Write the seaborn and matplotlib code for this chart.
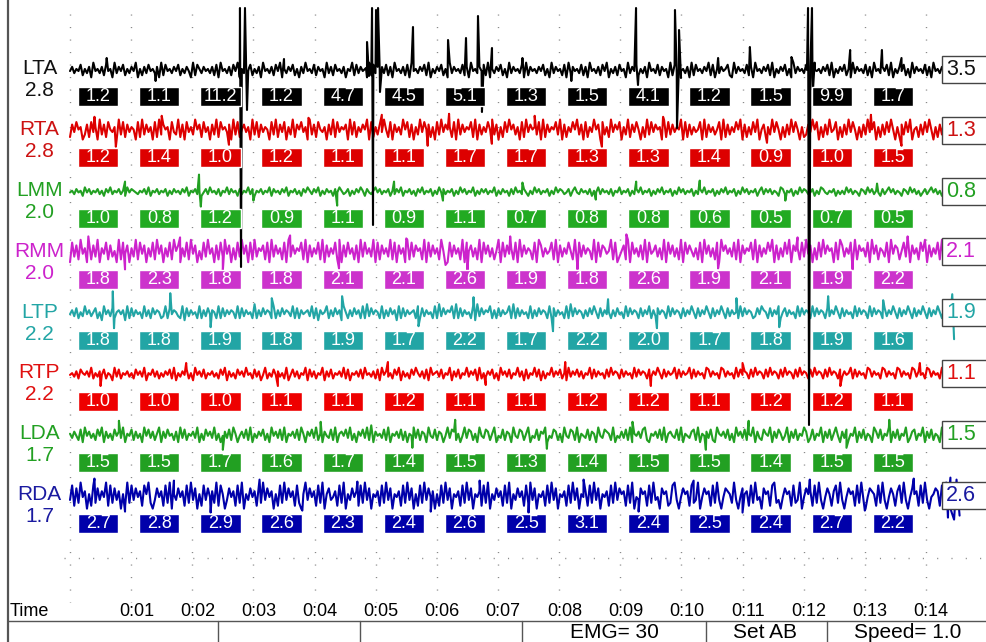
import numpy as np
import pandas as pd
import matplotlib.pyplot as plt
import seaborn as sns

# channel names and the values printed next to each trace
CHANNELS = ["LTA", "RTA", "LMM", "RMM", "LTP", "RTP", "LDA", "RDA"]
LEFT_VALUES = ["2.8", "2.8", "2.0", "2.0", "2.2", "2.2", "1.7", "1.7"]
RIGHT_VALUES = ["3.5", "1.3", "0.8", "2.1", "1.9", "1.1", "1.5", "2.6"]

# per-second box values
LTA_BOXES = ["1.2", "1.1", "11.2", "1.2", "4.7", "4.5", "5.1", "1.3", "1.5", "4.1", "1.2", "1.5", "9.9", "1.7"]
RTA_BOXES = ["1.2", "1.4", "1.0", "1.2", "1.1", "1.1", "1.7", "1.7", "1.3", "1.3", "1.4", "0.9", "1.0", "1.5"]
LMM_BOXES = ["1.0", "0.8", "1.2", "0.9", "1.1", "0.9", "1.1", "0.7", "0.8", "0.8", "0.6", "0.5", "0.7", "0.5"]
RMM_BOXES = ["1.8", "2.3", "1.8", "1.8", "2.1", "2.1", "2.6", "1.9", "1.8", "2.6", "1.9", "2.1", "1.9", "2.2"]
LTP_BOXES = ["1.8", "1.8", "1.9", "1.8", "1.9", "1.7", "2.2", "1.7", "2.2", "2.0", "1.7", "1.8", "1.9", "1.6"]
RTP_BOXES = ["1.0", "1.0", "1.0", "1.1", "1.1", "1.2", "1.1", "1.1", "1.2", "1.2", "1.1", "1.2", "1.2", "1.1"]
LDA_BOXES = ["1.5", "1.5", "1.7", "1.6", "1.7", "1.4", "1.5", "1.3", "1.4", "1.5", "1.5", "1.4", "1.5", "1.5"]
RDA_BOXES = ["2.7", "2.8", "2.9", "2.6", "2.3", "2.4", "2.6", "2.5", "3.1", "2.4", "2.5", "2.4", "2.7", "2.2"]

# raw EMG samples, one digit per sample (level 0..9, 4.5 = baseline)
LTA_TRACE = ("4635472536184536274518364725364815263745361827453647"
             "2536418275364536271845362748153647253618453627481536"
             "4725163845372645183627453615482736451827364537261845"
             "3627184536472815364725183645372618453647281536472518"
             "3645371826453647251836452718364537261845362748153627"
             "4518364725361845372645182736453618274536482715364572"
             "1836453726184536472815364725183645372618453647281536"
             "4725183645372618453647281536472518364537261845364728")
RTA_TRACE = ("2748561372846193728546193827465182937461829375618439"
             "2718463957284617392856471938257461938274651839274816"
             "3927584619372854617392846571938264759182637495281746"
             "3958271639485726183947562819374658291736485937162849"
             "5736182947563819274658391726485937182649571836294758"
             "1639274851629384756192837465918273645819274635819273"
             "6485917263849157263948516273948516237495816273945816"
             "2739485162739458162738495162738491562738495162739485")
LMM_TRACE = ("4536452746354635264735463527465435463725463546253645"
             "3647254635246374536254736452635473625463547264536472"
             "5463526475364725364526475346253647526435746354625364"
             "7254635264735462537463546253746354725364635472536452"
             "6374536425374635462537465346257436453625473645362547"
             "3546253647354625364735462537463546253647354625364735"
             "4625374635462573646354276354625374653462537643546253"
             "5374635426537463542635746354265374635246357463524637")
RMM_TRACE = ("1837294618273916482735192847163928471638294716382957"
             "1638294715283946172839471628394718293657281937462819"
             "3746582917364829173648291738462719384639182746392817"
             "4619283756291837462950183746291857362918473625918374"
             "6281937465281973645829173648529183746529183764592813"
             "5729184637291845736291847362918475362819473628195746"
             "3829174658291736485917263849175628394716283947561829"
             "7364819275638194726538194762583917462859173648291756")
LTP_TRACE = ("4637253846357251846372564618273645283627465238274653"
             "2817364528263746528273646528273645292637465282637465"
             "3827264563827164582637461852637462829374652826374618"
             "2736456282736452829374658292736452819374658262736458"
             "2927364528263746528273645282937465263748527364526374"
             "5283746527364826374652837465273648527364852736485273"
             "6452837465237486527364825736452837465283746527364852"
             "7364528374652837465273648527364852736485273648527364")
RTP_TRACE = ("4536275463825364725418372546352746381547362536472815"
             "3647251846372546352748163527463845273614825374635281"
             "4736254817362548163725463827154637284536271846352748"
             "1635274853627184563725481637254836471825364725184637"
             "2548361725483716254836472518364736254827364527384652"
             "7364528374652736485273645827364582736452873645287364"
             "5283746527384652738465273846527384652738465273846527"
             "3645827364528736452873645287364528736452873645287364")
LDA_TRACE = ("5364271846352748163527463815472635184736258163745261"
             "8372546381527463825146372851463728153647251846372815"
             "4637285164738251643728156473825164738291645372815463"
             "7261548372651843726514837625148376251843762581437265"
             "1843762581437265814376251843762815437265184376528143"
             "6372815463782154637281564372815436728154637218546372"
             "5184637254816327548163752481637254861372548163725841"
             "6372548163725418637254816372548136725481637254186372")
RDA_TRACE = ("3817294605182736491827360519283746185920374618290537"
             "4618293705183746291850374618290537461829374605182937"
             "4618205937461829057346182905374618293705461829370546"
             "1829370518293746051829370546182937054618290537461829"
             "0537461829370546182937054618293705461829370546182937"
             "5618290437561829340756128930475618239047561829304765"
             "2930475618293407561892304756182390475618293047516829"
             "3047561829304765182930475168293047561829304576182930")

# single-sample needles and artefacts (seconds, pixels above baseline)
LTA_SPIKE_T = [0.6, 1.4, 2.764, 2.780, 2.797, 2.862, 2.895, 2.928, 3.5,
               4.841, 4.858, 4.890, 4.940, 4.956, 5.005, 5.038, 5.070, 5.103,
               5.610, 6.183, 6.477, 6.673, 6.738, 6.902, 7.4, 8.2,
               9.258, 9.290, 9.895, 9.928, 9.961, 9.993, 10.6,
               11.12, 11.8, 12.054, 12.071, 12.087, 12.136, 12.152, 12.185, 12.76, 13.28, 13.6]
LTA_SPIKE_V = [12, -11, 0, 62, -197, 62, -40, 2, 11,
               2, 28, -6, 62, -155, 60, 62, -22, 3,
               43, 30, 32, 54, -42, 22, 12, -11,
               62, -15, 60, -58, 40, -8, 12,
               23, 13, 0, 62, -355, 62, -20, 0, 20, 20, 12]
RTA_SPIKE_T = [0.4, 0.75, 1.5, 2.6, 3.9, 5.1, 5.85, 6.2, 6.9, 7.6, 8.7, 9.7, 11.4, 13.1, 13.6]
RTA_SPIKE_V = [14, -16, 15, -14, 13, 16, -15, 17, -13, 15, -16, 14, -12, 16, -15]
LMM_SPIKE_T = [0.9, 2.110, 2.140, 3.0, 4.37, 5.3, 6.1, 7.4, 8.6, 9.26, 10.3, 11.7, 13.2]
LMM_SPIKE_V = [10, 17, -15, -9, -14, 10, -9, 9, -8, 10, 11, -9, 8]
RMM_SPIKE_T = [0.3, 0.9, 1.8, 2.5, 3.6, 4.4, 5.5, 6.5, 7.2, 8.3, 9.1, 10.6, 11.9, 12.8, 13.7]
RMM_SPIKE_V = [16, -17, 15, -18, 17, -16, 14, -18, 16, -17, 18, -16, 15, -17, 16]
LTP_SPIKE_T = [0.70, 0.72, 1.64, 2.3, 3.3, 4.45, 5.7, 6.6, 7.90, 8.8, 9.6, 10.9, 11.6,
               12.40, 13.3, 14.43, 14.46]
LTP_SPIKE_V = [22, -15, 20, -14, 15, 17, -13, 16, -18, 14, -15, 15, -14, 17, 13, 19, -26]
RTP_SPIKE_T = [0.5, 1.9, 3.4, 5.2, 6.8, 8.1, 9.5, 11.0, 12.6, 13.9]
RTP_SPIKE_V = [-12, 11, -12, 12, -11, 12, -12, 11, -12, 11]
LDA_SPIKE_T = [0.8, 2.5, 4.1, 5.6, 6.3, 7.8, 9.2, 10.4, 11.1, 12.7, 13.4]
LDA_SPIKE_V = [14, -15, 13, -13, 15, -14, 13, -15, 14, -13, 15]
RDA_SPIKE_T = [0.4, 0.9, 1.7, 2.3, 3.1, 3.8, 4.7, 5.9, 6.7, 7.5, 8.4, 9.3, 10.2, 11.0,
               12.1, 13.0, 13.8, 14.36, 14.40, 14.46, 14.50, 14.55]
RDA_SPIKE_V = [17, -16, 15, -17, 16, -15, 14, -16, 15, -17, 16, -16, 15, -17,
               16, -15, 17, -22, 18, -24, 16, -20]

TIME_LABELS = ["0:%02d" % s for s in range(1, 15)]
STATUS = ["EMG= 30", "Set AB", "Speed= 1.0"]

BOXES = [LTA_BOXES, RTA_BOXES, LMM_BOXES, RMM_BOXES, LTP_BOXES, RTP_BOXES, LDA_BOXES, RDA_BOXES]
TRACES = [LTA_TRACE, RTA_TRACE, LMM_TRACE, RMM_TRACE, LTP_TRACE, RTP_TRACE, LDA_TRACE, RDA_TRACE]
SPIKES = [(LTA_SPIKE_T, LTA_SPIKE_V), (RTA_SPIKE_T, RTA_SPIKE_V), (LMM_SPIKE_T, LMM_SPIKE_V),
          (RMM_SPIKE_T, RMM_SPIKE_V), (LTP_SPIKE_T, LTP_SPIKE_V), (RTP_SPIKE_T, RTP_SPIKE_V),
          (LDA_SPIKE_T, LDA_SPIKE_V), (RDA_SPIKE_T, RDA_SPIKE_V)]

# styling
LINE_COLORS = ["#000000", "#dd0000", "#22a022", "#cc22cc", "#22a5a5", "#ee0000", "#22a022", "#0000aa"]
BOX_COLORS = ["#000000", "#dd0000", "#22aa22", "#cc33cc", "#22a5a5", "#ee0000", "#22a022", "#0000aa"]
TEXT_COLORS = ["#111111", "#cc1111", "#22a022", "#cc22cc", "#22a5a5", "#e01010", "#22a022", "#1a1aa0"]
GAIN = [2.1, 2.5, 1.7, 2.8, 2.0, 1.8, 2.1, 2.9]

sns.set_style("white")
plt.rcParams['font.family'] = ['Liberation Sans', 'DejaVu Sans']

W, H = 987, 642
PX = 61.14   # pixels per second
X0 = 70      # pixel column of t = 0

fig = plt.figure(figsize=(W / 100, H / 100), dpi=100)
ax = fig.add_axes([0, 0, 1, 1])

# dotted grid
for k in range(15):
    ax.plot([k, k], [14, 602], color="#8a8a8a", lw=1, ls=(0, (0.8, 8.2)), zorder=1)
ax.plot([-0.1, 15], [558, 558], color="#8a8a8a", lw=1, ls=(0, (0.8, 9.5)), zorder=1)

for i, ch in enumerate(CHANNELS):
    base = 70 + 60.8 * i
    levels = np.array([int(c) for c in TRACES[i]], dtype=float) - 4.5
    t = np.linspace(0, 14.4, len(levels))
    amp = levels * GAIN[i]
    st, sv = SPIKES[i]
    df = pd.DataFrame({"t": np.r_[t, st], "v": np.r_[amp, sv]}).sort_values("t")
    df["y"] = base - df["v"]
    sns.lineplot(data=df, x="t", y="y", ax=ax, color=LINE_COLORS[i], lw=1.5,
                 estimator=None, sort=True, zorder=4 if ch == "LTA" else 3)

    # per-second value boxes
    centers = np.arange(len(BOXES[i])) + 0.46
    top = 86.5 + 61.0 * i
    ax.bar(centers, 19, bottom=top, width=0.66, color=BOX_COLORS[i], zorder=5)
    for c, v in zip(centers, BOXES[i]):
        ax.text(c, top + 10, v, color="white", ha="center", va="center",
                fontsize=13, zorder=6)

    # channel name and gain on the left
    xl = (39.5 - X0) / PX
    ax.text(xl, base - 1, ch, color=TEXT_COLORS[i], ha="center", va="center", fontsize=15)
    ax.text(xl, base + 21, LEFT_VALUES[i], color=TEXT_COLORS[i], ha="center", va="center", fontsize=15)

    # boxed value on the right
    xr = (942 - X0) / PX
    ax.add_patch(plt.Rectangle((xr, base - 14), 70 / PX, 27, facecolor="white",
                               edgecolor="#444444", lw=1, zorder=7))
    ax.text((946 - X0) / PX, base - 0.5, RIGHT_VALUES[i], color=TEXT_COLORS[i],
            ha="left", va="center", fontsize=15.5, zorder=8)

# time axis labels
ax.text((10 - X0) / PX, 611, "Time", ha="left", va="center", fontsize=13, color="black")
for k, lab in enumerate(TIME_LABELS, start=1):
    ax.text(k + 0.085, 611, lab, ha="center", va="center", fontsize=13, color="black")

ax.set_xlim(-X0 / PX, (W - X0) / PX)
ax.set_ylim(H, 0)
ax.axis("off")

# window chrome: left border and status bar
ov = fig.add_axes([0, 0, 1, 1], zorder=10)
ov.set_xlim(0, W)
ov.set_ylim(H, 0)
ov.axis("off")
ov.plot([8, 8], [0, H], color="#555555", lw=1.6)
ov.plot([8, W], [621, 621], color="#555555", lw=1)
for x in [218, 360, 522, 706, 827]:
    ov.plot([x, x], [621, H], color="#555555", lw=1)
for x, s in zip([614, 765, 908], STATUS):
    ov.text(x, 632, s, ha="center", va="center", fontsize=15, color="black")

fig.savefig("out.png", dpi=100)
